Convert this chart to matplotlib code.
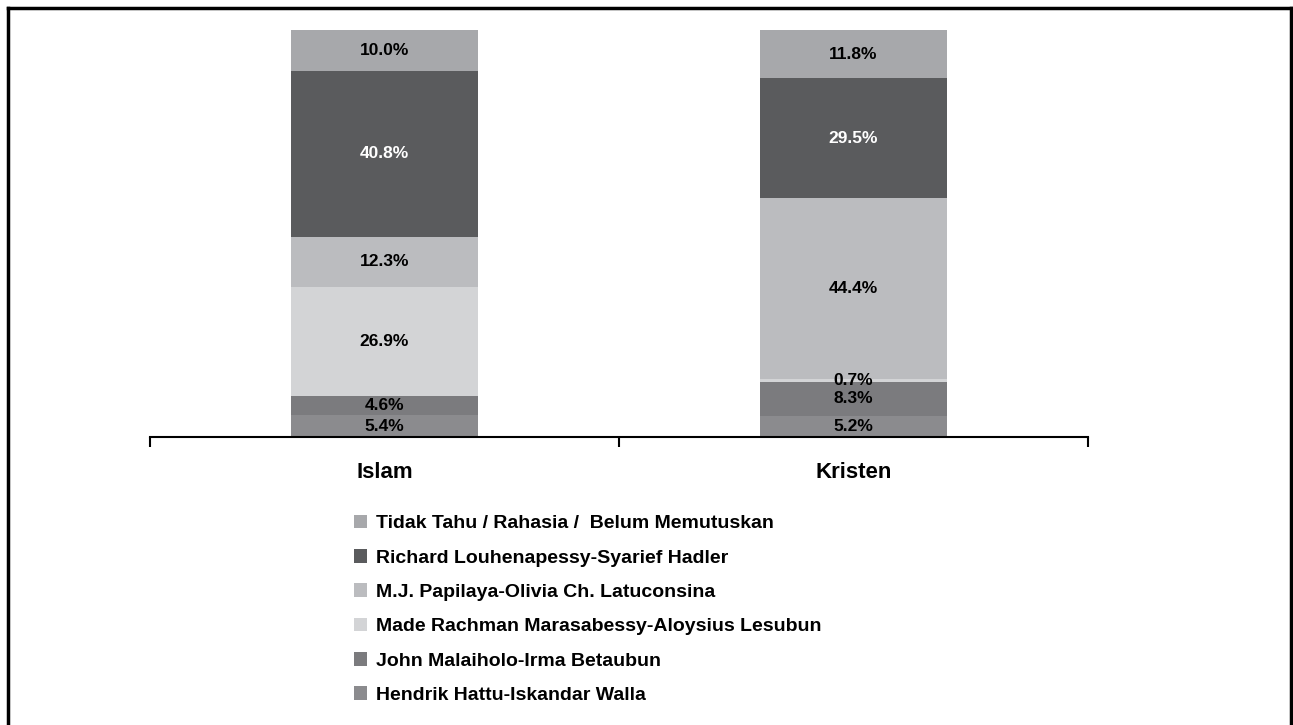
import matplotlib.pyplot as plt
from matplotlib.lines import Line2D
import numpy as np

plt.rcParams['font.family'] = ['Liberation Sans', 'DejaVu Sans']

categories = ['Islam', 'Kristen']
# bottom to top
series = [
    'Hendrik Hattu-Iskandar Walla',
    'John Malaiholo-Irma Betaubun',
    'Made Rachman Marasabessy-Aloysius Lesubun',
    'M.J. Papilaya-Olivia Ch. Latuconsina',
    'Richard Louhenapessy-Syarief Hadler',
    'Tidak Tahu / Rahasia /  Belum Memutuskan',
]
values = {
    'Islam':   [5.4, 4.6, 26.9, 12.3, 40.8, 10.0],
    'Kristen': [5.2, 8.3, 0.7, 44.4, 29.5, 11.8],
}
colors = ['#8b8b8e', '#7b7b7e', '#d3d4d6', '#bbbcbf', '#5a5b5d', '#a7a8ab']
text_colors = ['black', 'black', 'black', 'black', 'white', 'black']

fig = plt.figure(figsize=(12.93, 7.25), dpi=100)
ax = fig.add_axes([150 / 1293, 1 - 437 / 725, 938 / 1293, 407 / 725])

x = np.arange(len(categories))
bottom = np.zeros(len(categories))
handles = []
for i, name in enumerate(series):
    vals = np.array([values[c][i] for c in categories])
    bars = ax.bar(x, vals, 0.4, bottom=bottom, color=colors[i],
                  linewidth=0, label=name)
    for xi, v, b in zip(x, vals, bottom):
        ax.text(xi, b + v / 2, f'{v:.1f}%', ha='center', va='center',
                fontsize=12.5, fontweight='bold', color=text_colors[i])
    handles.append(bars)
    bottom += vals

ax.set_xlim(-0.5, 1.5)
ax.set_ylim(0, 100)
for s in ['left', 'top', 'right']:
    ax.spines[s].set_visible(False)
ax.spines['bottom'].set_linewidth(1.5)
ax.set_yticks([])
ax.set_xticks(x)
ax.set_xticklabels(categories, fontsize=16, fontweight='bold')
ax.tick_params(axis='x', which='major', length=0, pad=18)
ax.set_xticks([-0.5, 0.5, 1.5], minor=True)
ax.tick_params(axis='x', which='minor', length=7, width=1.5, direction='out')

leg = fig.legend(handles[::-1], series[::-1], loc='upper left',
                 bbox_to_anchor=(346 / 1293, 1 - 507 / 725), frameon=False,
                 handlelength=0.7, handleheight=0.7, handletextpad=0.45,
                 labelspacing=0.86, borderaxespad=0,
                 prop={'size': 14, 'weight': 'bold'})

# outer frame
fig.add_artist(Line2D([8 / 1293, 8 / 1293], [0, 1 - 8 / 725], color='black', lw=2.5,
                      transform=fig.transFigure))
fig.add_artist(Line2D([8 / 1293, 1291 / 1293], [1 - 8 / 725, 1 - 8 / 725], color='black', lw=2.5,
                      transform=fig.transFigure))
fig.add_artist(Line2D([1291 / 1293, 1291 / 1293], [0, 1 - 8 / 725], color='black', lw=2.5,
                      transform=fig.transFigure))

fig.savefig('out.png', dpi=100)
